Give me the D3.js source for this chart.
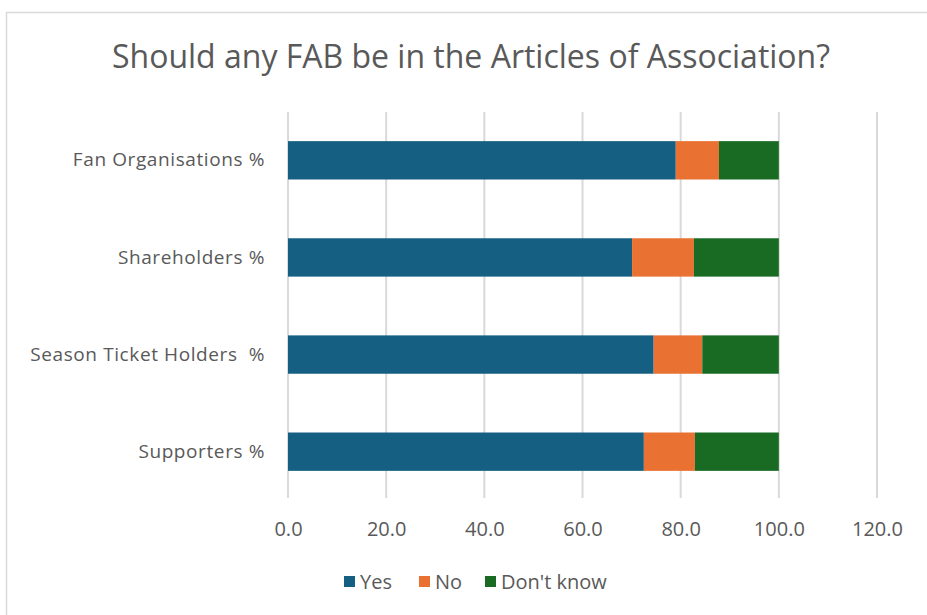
<!DOCTYPE html>
<html>
<head>
<meta charset="utf-8">
<script src="https://cdn.jsdelivr.net/npm/d3@7"></script>
<style>
  html, body { margin: 0; padding: 0; background: #fff; }
  svg { display: block; }
</style>
</head>
<body>
<svg id="chart" width="927" height="615"></svg>
<script>
// Survey answers, percent of each respondent group
const categories = ["Fan Organisations %", "Shareholders %", "Season Ticket Holders  %", "Supporters %"];
const seriesNames = ["Yes", "No", "Don't know"];
const yesValues = [79.0, 70.1, 74.5, 72.5];
const noValues = [8.8, 12.6, 9.9, 10.4];
const dontKnowValues = [12.2, 17.3, 15.6, 17.1];
const xTicks = [0, 20, 40, 60, 80, 100, 120];
const colors = ["#156082", "#E97132", "#196B24"];
const title = "Should any FAB be in the Articles of Association?";

const rows = categories.map((c, i) => ({
  category: c, "Yes": yesValues[i], "No": noValues[i], "Don't know": dontKnowValues[i]
}));

const svg = d3.select("#chart");
const W = 927, H = 615;
const font = "'Open Sans', 'Noto Sans', sans-serif";
const textColor = "#595959";

// Chart frame
svg.append("rect")
  .attr("x", 6.5).attr("y", 12.5)
  .attr("width", W + 10).attr("height", H + 10)
  .attr("fill", "#fff").attr("stroke", "#d9d9d9").attr("stroke-width", 1.5);

const plot = { left: 288, right: 877, top: 112, bottom: 500 };

const x = d3.scaleLinear().domain([0, 120]).range([plot.left, plot.right]);
const y = d3.scaleBand().domain(categories).range([plot.top, plot.bottom]).paddingInner(0.605).paddingOuter(0.3);

// Vertical gridlines
svg.append("g")
  .selectAll("line")
  .data(xTicks)
  .join("line")
  .attr("x1", d => x(d)).attr("x2", d => x(d))
  .attr("y1", plot.top).attr("y2", plot.bottom - 2)
  .attr("stroke", "#d9d9d9").attr("stroke-width", 2);

// Stacked bars
const stack = d3.stack().keys(seriesNames);
const layers = stack(rows);
svg.append("g")
  .selectAll("g")
  .data(layers)
  .join("g")
  .attr("fill", (d, i) => colors[i])
  .selectAll("rect")
  .data(d => d)
  .join("rect")
  .attr("x", d => x(d[0]))
  .attr("width", d => x(d[1]) - x(d[0]))
  .attr("y", d => y(d.data.category))
  .attr("height", y.bandwidth());

// X axis tick labels
const xAxis = d3.axisBottom(x).tickValues(xTicks).tickFormat(d3.format(".1f")).tickSize(0).tickPadding(0);
const gx = svg.append("g").attr("transform", `translate(0,${plot.bottom + 22})`).call(xAxis);
gx.select(".domain").remove();
gx.selectAll("text")
  .attr("font-family", font).attr("font-size", 20).attr("fill", textColor)
  .attr("dy", "0.71em");

// Category labels
const yAxis = d3.axisLeft(y).tickSize(0).tickPadding(23);
const gy = svg.append("g").attr("transform", `translate(${plot.left},0)`).call(yAxis);
gy.select(".domain").remove();
gy.selectAll("text")
  .attr("font-family", font).attr("font-size", 19).attr("fill", textColor)
  .attr("letter-spacing", 0.6)
  .style("white-space", "pre");

// Title
svg.append("text")
  .attr("x", 471).attr("y", 68)
  .attr("text-anchor", "middle")
  .attr("font-family", font).attr("font-size", 32).attr("fill", textColor)
  .text(title);

// Legend
const legendX = [344, 419, 485];
const legend = svg.append("g").selectAll("g")
  .data(seriesNames)
  .join("g")
  .attr("transform", (d, i) => `translate(${legendX[i]},582)`);
legend.append("rect")
  .attr("x", 0).attr("y", -6).attr("width", 11).attr("height", 11)
  .attr("fill", (d, i) => colors[i]);
legend.append("text")
  .attr("x", 16).attr("y", 0).attr("dy", "0.35em")
  .attr("font-family", font).attr("font-size", 20).attr("fill", textColor)
  .text(d => d);
</script>
</body>
</html>
